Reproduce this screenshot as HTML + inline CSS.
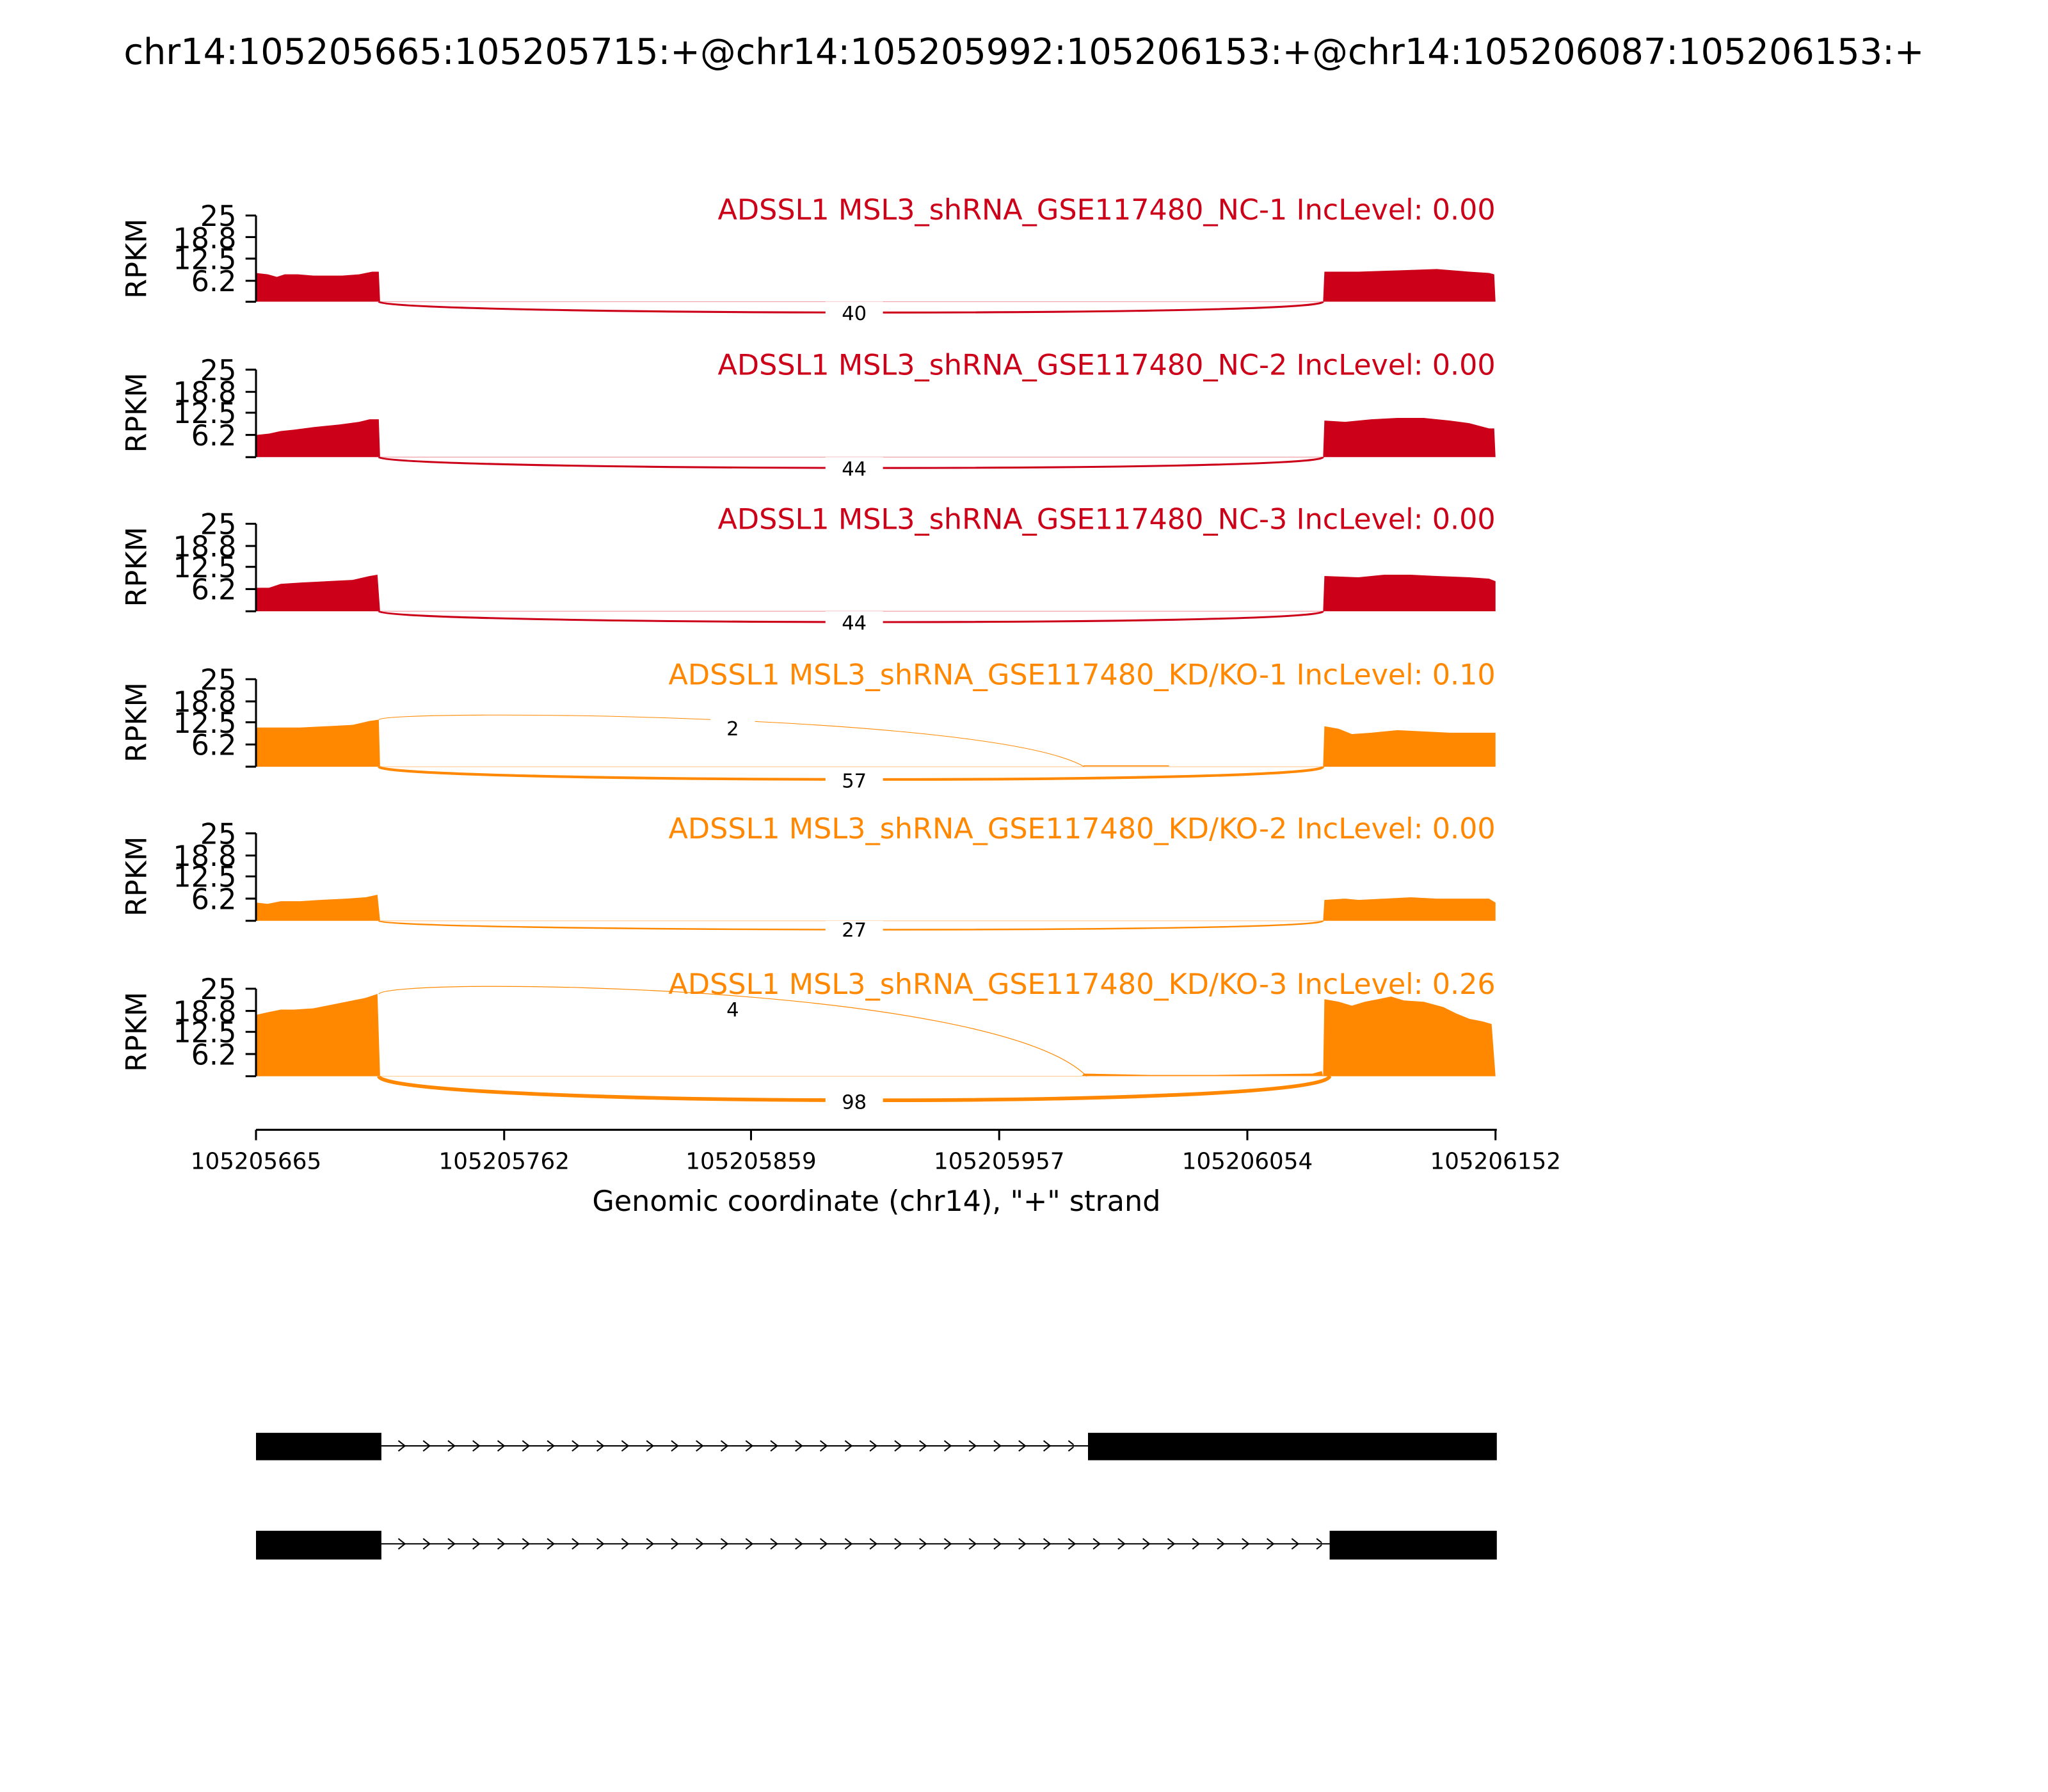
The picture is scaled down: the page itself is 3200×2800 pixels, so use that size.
<!DOCTYPE html>
<html><head><meta charset="utf-8"><style>html,body{margin:0;padding:0;background:#fff}svg{display:block}</style></head>
<body>
<svg width="3200" height="2800" viewBox="0 0 1568 1372" preserveAspectRatio="none" xmlns="http://www.w3.org/2000/svg" font-family="DejaVu Sans, Liberation Sans, sans-serif">
<defs>
<pattern id="chev" x="302" y="0" width="19" height="1372" patternUnits="userSpaceOnUse">
<polyline points="3,1103 8,1107 3,1111" fill="none" stroke="#000" stroke-width="1"/>
<polyline points="3,1178 8,1182 3,1186" fill="none" stroke="#000" stroke-width="1"/>
</pattern>
</defs>
<rect width="1568" height="1372" fill="#fff"/>
<text x="784" y="49" font-size="27.3" text-anchor="middle">chr14:105205665:105205715:+@chr14:105205992:105206153:+@chr14:105206087:105206153:+</text>

<g font-size="21.8">
<g>
<text x="1145" y="168" text-anchor="end" fill="#cc0018">ADSSL1 MSL3_shRNA_GSE117480_NC-1 IncLevel: 0.00</text>
<polygon fill="#cc0018" points="196,231 196,209 205,210 212,212 218,210 228,210 240,211 262,211 275,210 285,208 290,208 291,231"/>
<polygon fill="#cc0018" points="1013,231 1014,208 1040,208 1070,207 1100,206 1125,208 1140,209 1144,210 1145,231"/>
<line x1="290" y1="231" x2="1013" y2="231" stroke="#f0a0a8" stroke-width="0.6"/>
<path d="M290,231 C295,241 1010,243 1013,231" fill="none" stroke="#cc0018" stroke-width="1.5"/>
</g>
<g>
<text x="1145" y="287" text-anchor="end" fill="#cc0018">ADSSL1 MSL3_shRNA_GSE117480_NC-2 IncLevel: 0.00</text>
<polygon fill="#cc0018" points="196,350 196,333 206,332 215,330 225,329 240,327 260,325 275,323 283,321 290,321 291,350"/>
<polygon fill="#cc0018" points="1013,350 1014,322 1030,323 1050,321 1070,320 1090,320 1110,322 1125,324 1140,328 1144,328 1145,350"/>
<line x1="290" y1="350" x2="1013" y2="350" stroke="#f0a0a8" stroke-width="0.6"/>
<path d="M290,350 C295,360 1010,362 1013,350" fill="none" stroke="#cc0018" stroke-width="1.5"/>
</g>
<g>
<text x="1145" y="405" text-anchor="end" fill="#cc0018">ADSSL1 MSL3_shRNA_GSE117480_NC-3 IncLevel: 0.00</text>
<polygon fill="#cc0018" points="196,468 196,450 206,450 215,447 230,446 250,445 270,444 283,441 289,440 291,468"/>
<polygon fill="#cc0018" points="1013,468 1014,441 1040,442 1060,440 1080,440 1100,441 1125,442 1140,443 1145,445 1145,468"/>
<line x1="290" y1="468" x2="1013" y2="468" stroke="#f0a0a8" stroke-width="0.6"/>
<path d="M290,468 C295,478 1010,480 1013,468" fill="none" stroke="#cc0018" stroke-width="1.5"/>
</g>
<g>
<text x="1145" y="524" text-anchor="end" fill="#ff8800">ADSSL1 MSL3_shRNA_GSE117480_KD/KO-1 IncLevel: 0.10</text>
<polygon fill="#ff8800" points="196,587 196,557 210,557 230,557 250,556 270,555 283,552 290,551 291,587"/>
<polygon fill="#ff8800" points="828,587 830,586 895,586 895,587"/>
<polygon fill="#ff8800" points="1013,587 1014,556 1025,558 1035,562 1050,561 1070,559 1090,560 1110,561 1130,561 1145,561 1145,587"/>
<line x1="290" y1="587" x2="1013" y2="587" stroke="#ffd0a0" stroke-width="0.6"/>
<path d="M290,551 C300,543 760,546 830,587" fill="none" stroke="#ff8800" stroke-width="0.5"/>
<path d="M290,587 C295,599 1010,601 1013,587" fill="none" stroke="#ff8800" stroke-width="2"/>
</g>
<g>
<text x="1145" y="642" text-anchor="end" fill="#ff8800">ADSSL1 MSL3_shRNA_GSE117480_KD/KO-2 IncLevel: 0.00</text>
<polygon fill="#ff8800" points="196,705 196,691 205,692 215,690 230,690 245,689 265,688 280,687 289,685 291,705"/>
<polygon fill="#ff8800" points="1013,705 1014,689 1030,688 1040,689 1060,688 1080,687 1100,688 1120,688 1140,688 1145,691 1145,705"/>
<line x1="290" y1="705" x2="1013" y2="705" stroke="#ffd0a0" stroke-width="0.6"/>
<path d="M290,705 C295,713 1010,715 1013,705" fill="none" stroke="#ff8800" stroke-width="1.2"/>
</g>
<g>
<text x="1145" y="761" text-anchor="end" fill="#ff8800">ADSSL1 MSL3_shRNA_GSE117480_KD/KO-3 IncLevel: 0.26</text>
<polygon fill="#ff8800" points="196,824 196,777 205,775 215,773 225,773 240,772 255,769 270,766 280,764 289,761 291,824"/>
<polygon fill="#ff8800" points="828,824 830,822 880,823 930,823 1005,822 1012,820 1013,824"/>
<polygon fill="#ff8800" points="1013,824 1014,765 1025,767 1035,770 1045,767 1055,765 1065,763 1075,766 1090,767 1105,771 1115,776 1125,780 1135,782 1142,784 1145,824"/>
<line x1="290" y1="824" x2="1013" y2="824" stroke="#ffd0a0" stroke-width="0.6"/>
<path d="M290,761 C300,748 760,752 832,824" fill="none" stroke="#ff8800" stroke-width="0.6"/>
<path d="M290,824 C295,847 1012,850 1018,824" fill="none" stroke="#ff8800" stroke-width="2.8"/>
</g>
</g>

<g font-size="15" text-anchor="middle">
<rect x="632" y="231" width="44" height="18" fill="#fff"/><text x="654" y="245">40</text>
<rect x="632" y="350" width="44" height="18" fill="#fff"/><text x="654" y="364">44</text>
<rect x="632" y="468" width="44" height="18" fill="#fff"/><text x="654" y="482">44</text>
<rect x="544" y="549" width="34" height="18" fill="#fff"/><text x="561" y="563">2</text>
<rect x="632" y="589" width="44" height="18" fill="#fff"/><text x="654" y="603">57</text>
<rect x="632" y="705" width="44" height="18" fill="#fff"/><text x="654" y="717">27</text>
<rect x="544" y="764" width="34" height="18" fill="#fff"/><text x="561" y="778">4</text>
<rect x="632" y="833" width="44" height="30" fill="#fff"/><text x="654" y="849">98</text>
</g>

<g stroke="#000" stroke-width="1.5" fill="none">
<path d="M196,165 V231 M188,165 H196 M188,181.5 H196 M188,198 H196 M188,215 H196 M188,231 H196"/>
<path d="M196,283 V350 M188,283 H196 M188,300 H196 M188,316 H196 M188,333 H196 M188,350 H196"/>
<path d="M196,401 V468 M188,401 H196 M188,418 H196 M188,434 H196 M188,451 H196 M188,468 H196"/>
<path d="M196,520 V587 M188,520 H196 M188,537 H196 M188,553 H196 M188,570 H196 M188,587 H196"/>
<path d="M196,638 V705 M188,638 H196 M188,655 H196 M188,671 H196 M188,688 H196 M188,705 H196"/>
<path d="M196,757 V824 M188,757 H196 M188,774 H196 M188,790 H196 M188,807 H196 M188,824 H196"/>
</g>
<g font-size="21.8" text-anchor="end">
<text x="181" y="173">25</text><text x="181" y="190">18.8</text><text x="181" y="206">12.5</text><text x="181" y="223">6.2</text>
<text x="181" y="291">25</text><text x="181" y="308">18.8</text><text x="181" y="324">12.5</text><text x="181" y="341">6.2</text>
<text x="181" y="409">25</text><text x="181" y="426">18.8</text><text x="181" y="442">12.5</text><text x="181" y="459">6.2</text>
<text x="181" y="528">25</text><text x="181" y="545">18.8</text><text x="181" y="561">12.5</text><text x="181" y="578">6.2</text>
<text x="181" y="646">25</text><text x="181" y="663">18.8</text><text x="181" y="679">12.5</text><text x="181" y="696">6.2</text>
<text x="181" y="765">25</text><text x="181" y="782">18.8</text><text x="181" y="798">12.5</text><text x="181" y="815">6.2</text>
</g>
<g font-size="21.8" text-anchor="middle">
<text transform="translate(112,198) rotate(-90)">RPKM</text>
<text transform="translate(112,316) rotate(-90)">RPKM</text>
<text transform="translate(112,434) rotate(-90)">RPKM</text>
<text transform="translate(112,553) rotate(-90)">RPKM</text>
<text transform="translate(112,671) rotate(-90)">RPKM</text>
<text transform="translate(112,790) rotate(-90)">RPKM</text>
</g>

<g stroke="#000" stroke-width="1.5">
<line x1="196" y1="865" x2="1146" y2="865"/>
<line x1="196" y1="865" x2="196" y2="873"/><line x1="386" y1="865" x2="386" y2="873"/>
<line x1="575" y1="865" x2="575" y2="873"/><line x1="765" y1="865" x2="765" y2="873"/>
<line x1="955" y1="865" x2="955" y2="873"/><line x1="1145" y1="865" x2="1145" y2="873"/>
</g>
<g font-size="17.5" text-anchor="middle">
<text x="196" y="895">105205665</text><text x="386" y="895">105205762</text><text x="575" y="895">105205859</text>
<text x="765" y="895">105205957</text><text x="955" y="895">105206054</text><text x="1145" y="895">105206152</text>
</g>
<text x="671" y="927" font-size="21.8" text-anchor="middle">Genomic coordinate (chr14), "+" strand</text>

<line x1="292" y1="1107" x2="833" y2="1107" stroke="#000" stroke-width="1"/>
<rect x="292" y="1100" width="530" height="15" fill="url(#chev)"/>
<rect x="196" y="1097" width="96" height="21" fill="#000"/>
<rect x="833" y="1097" width="313" height="21" fill="#000"/>
<line x1="292" y1="1182" x2="1018" y2="1182" stroke="#000" stroke-width="1"/>
<rect x="292" y="1175" width="720" height="15" fill="url(#chev)"/>
<rect x="196" y="1172" width="96" height="22" fill="#000"/>
<rect x="1018" y="1172" width="128" height="22" fill="#000"/>
</svg>
</body></html>
